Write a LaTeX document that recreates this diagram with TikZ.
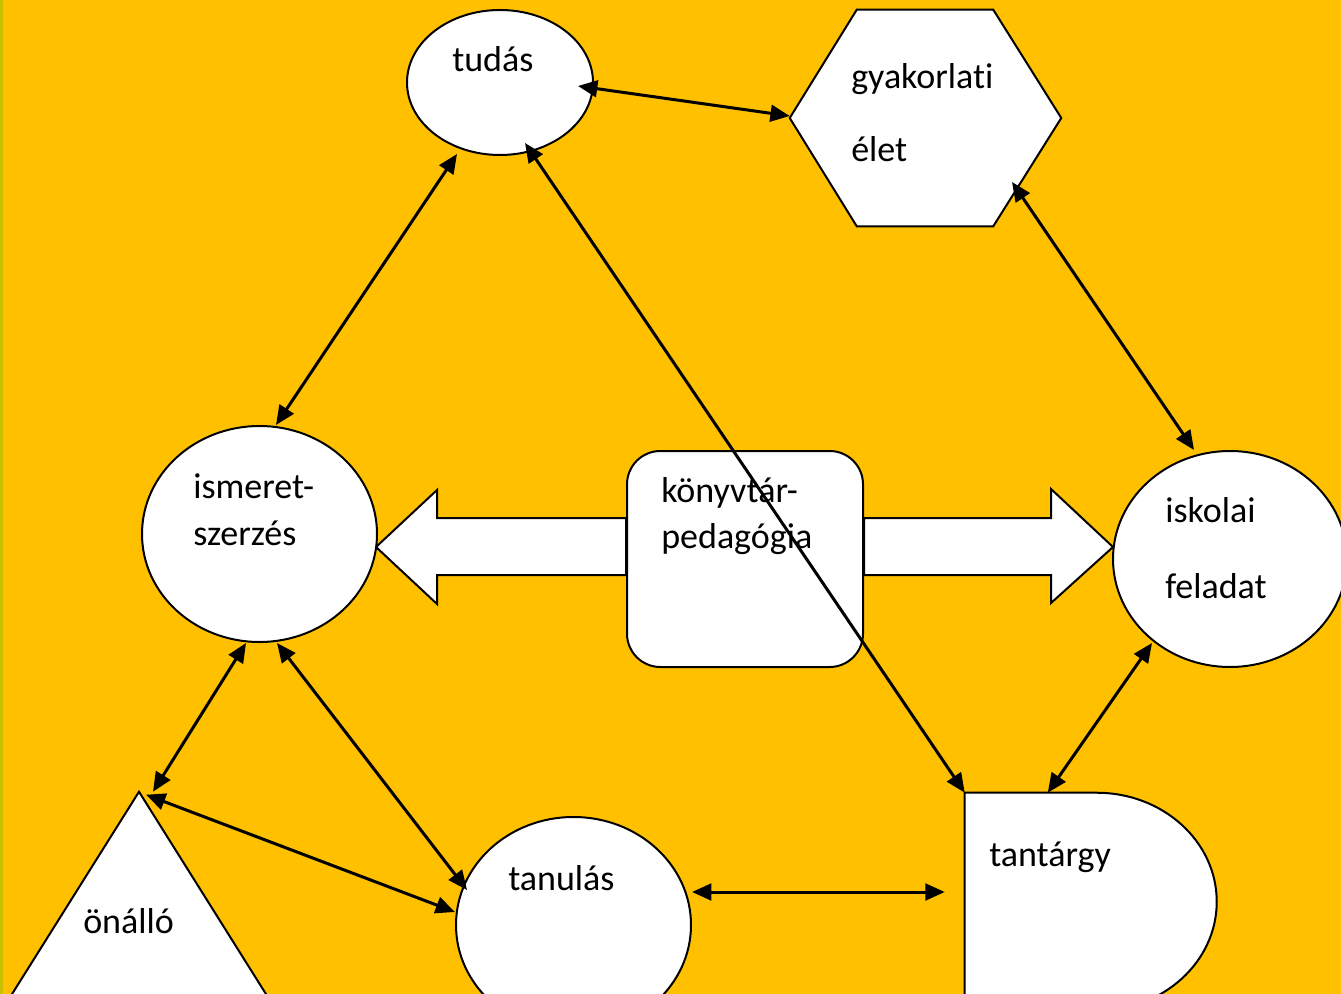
\documentclass[tikz,border=0pt]{standalone}
\usepackage{fontspec}
\setmainfont{Carlito}[RawFeature=-liga]
\usetikzlibrary{arrows.meta,calc,shapes.geometric}
\definecolor{gold}{HTML}{FFC000}
\definecolor{edgeolive}{RGB}{200,192,0}
\pgfdeclarelayer{bg}
\pgfsetlayers{bg,main}
\tikzset{
  shapeline/.style={draw=black, line width=1.5pt, fill=white},
  oval/.style={shapeline, ellipse, inner sep=0pt},
  frame/.style={draw=none, rectangle, inner sep=0pt},
  link/.style={line width=2.25pt, {Triangle[length=14.5pt,width=12.5pt]}-{Triangle[length=14.5pt,width=12.5pt]}},
  lbl/.style={anchor=base west, inner sep=0pt, font=\fontsize{27}{32}\selectfont},
}
\begin{document}
\begin{tikzpicture}[x=0.75pt,y=-0.75pt]
\useasboundingbox (0,0) rectangle (1341,994);
\clip (0,0) rectangle (1341,994);
\begin{pgfonlayer}{bg}
  \fill[gold] (0,0) rectangle (1341,994);
  \fill[edgeolive] (0,0) rectangle (3,994);
\end{pgfonlayer}

% tudás
\node[oval, minimum width=139.5pt, minimum height=108.75pt] (tudas) at (500,82.5) {};
% gyakorlati élet (hexagon)
\node[frame, minimum width=203.25pt, minimum height=162pt] (gyak) at (925.5,118) {};
\draw[shapeline] (gyak.west) -- ($(gyak.north west)+(67,0)$) -- ($(gyak.north east)+(-68,0)$)
  -- (gyak.east) -- ($(gyak.south east)+(-68,0)$) -- ($(gyak.south west)+(67,0)$) -- cycle;
% ismeretszerzés
\node[oval, minimum width=176.25pt, minimum height=162pt] (ism) at (259.5,534) {};
% könyvtárpedagógia
\node[shapeline, rectangle, rounded corners=25pt, minimum width=177pt, minimum height=162pt, inner sep=0pt] (konyv) at (745,559) {};
% iskolai feladat
\node[oval, minimum width=175.5pt, minimum height=162pt] (isk) at (1230,559) {};
% tantárgy (D shape)
\node[frame, minimum width=189pt, minimum height=163.5pt] (tant) at (1091,902) {};
\draw[shapeline] (tant.north west) -- ($(tant.north west)+(132,0)$)
  arc[start angle=-90, end angle=90, x radius=120, y radius=109] -- (tant.south west) -- cycle;
% tanulás
\node[oval, minimum width=176.25pt, minimum height=162pt] (tanul) at (573.5,925) {};
% önálló (triangle)
\node[frame, minimum width=243pt, minimum height=193.5pt] (onallo) at (139,921) {};
\draw[shapeline] (onallo.north) -- (onallo.south east) -- (onallo.south west) -- cycle;

% block arrows (under the rounded box)
\begin{pgfonlayer}{bg}
  \draw[shapeline] ($(konyv.west)+(0,-41)$) -- ($(konyv.west)+(-189,-41)$) -- ($(konyv.west)+(-189,-69)$)
    -- ($(konyv.west)+(-250,-12)$) -- ($(konyv.west)+(-189,45)$) -- ($(konyv.west)+(-189,16)$)
    -- ($(konyv.west)+(0,16)$) -- cycle;
  \draw[shapeline] ($(konyv.east)+(0,-41)$) -- ($(konyv.east)+(187,-41)$) -- ($(konyv.east)+(187,-70)$)
    -- ($(konyv.east)+(249,-12)$) -- ($(konyv.east)+(187,44)$) -- ($(konyv.east)+(187,16)$)
    -- ($(konyv.east)+(0,16)$) -- cycle;
\end{pgfonlayer}

% labels
\node[lbl] (t1) at (452,72) {tudás};
\node[lbl] (t2) at (851,89) {gyakorlati};
\node[lbl] (t3) at (851,162) {élet};
\node[lbl] (t4) at (193,498) {ismeret-};
\node[lbl] (t5) at (193,545) {szerzés};
\node[lbl] (t6) at (661,502) {könyvtár-};
\node[lbl] (t7) at (661,548) {pedagógia};
\node[lbl] (t8) at (1165,522) {iskolai};
\node[lbl] (t9) at (1165,598) {feladat};
\node[lbl] (t10) at (989,866) {tantárgy};
\node[lbl] (t11) at (508,890) {tanulás};
\node[lbl] (t12) at (83,933) {önálló};

% connectors
\draw[link] ($(tudas.center)+(78,3.5)$) -- ($(gyak.west)+(0,-2)$);
\draw[link] ($(tudas.center)+(-43,71.5)$) -- ($(ism.center)+(16.5,-109)$);
\draw[link] ($(tudas.center)+(25,60.5)$) -- (tant.north west);
\draw[link] ($(gyak.center)+(86.5,64)$) -- ($(isk.center)+(-36,-109)$);
\draw[link] ($(isk.center)+(-78,84)$) -- ($(tant.north west)+(83,0)$);
\draw[link] ($(ism.center)+(-13.5,109)$) -- ($(onallo.north)+(14,0)$);
\draw[link] ($(ism.center)+(17.5,109)$) -- ($(tanul.center)+(-106.5,-35)$);
\draw[link] ($(onallo.north)+(7,3)$) -- ($(tanul.center)+(-118.5,-13)$);
\draw[link] ($(tanul.center)+(118.5,-33)$) -- ($(tant.west)+(-20,-10)$);
\end{tikzpicture}
\end{document}
